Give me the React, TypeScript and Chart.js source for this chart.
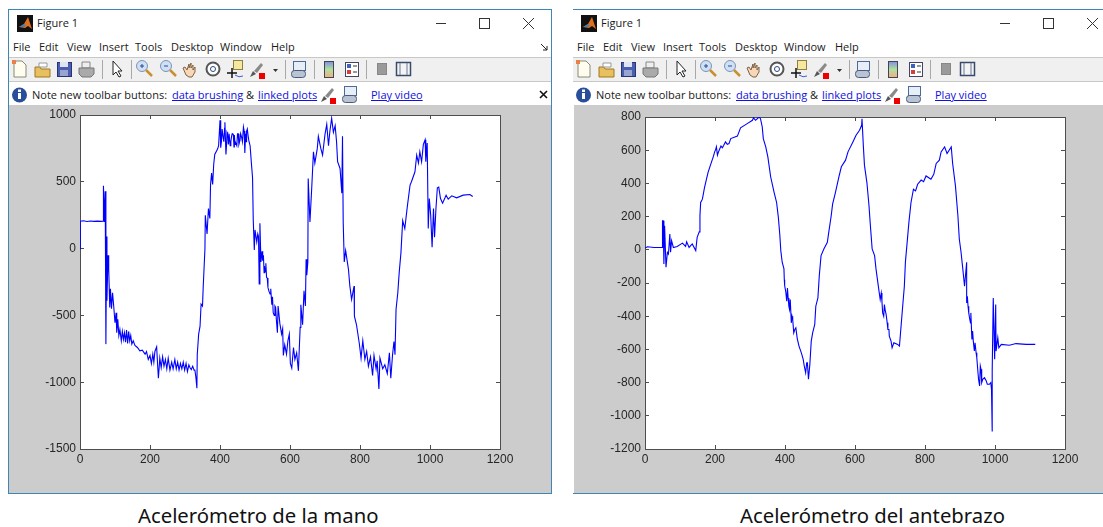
import React, { useEffect, useRef } from "react";
import { Chart, registerables } from "chart.js";

Chart.register(...registerables);

const tickStepX = 200;
const handYTicks = { min: -1500, max: 1000, step: 500 };
const armYTicks = { min: -1200, max: 800, step: 200 };
const xRange = { min: 0, max: 1200 };

const menuItems = ["File", "Edit", "View", "Insert", "Tools", "Desktop", "Window", "Help"];
const menuX = [13, 39, 67, 99, 135, 171, 220, 271];
const captionHand = "Acelerómetro de la mano";
const captionArm = "Acelerómetro del antebrazo";

const handX = [0, 1, 10, 20, 30, 40, 50, 60, 66, 66, 68, 70, 72, 74, 76, 77, 80, 82, 85, 87, 90, 93, 96, 100, 103, 105, 108, 111, 114, 118, 121, 124, 127, 130, 133, 136, 139, 142, 145, 148, 152, 157, 164, 171, 178, 186, 190, 195, 200, 204, 208, 211, 214, 219, 222, 224, 228, 232, 236, 240, 244, 248, 252, 257, 262, 266, 271, 275, 279, 283, 287, 291, 295, 299, 303, 307, 311, 314, 318, 322, 326, 328, 331, 334, 335, 339, 343, 346, 350, 352, 357, 358, 363, 367, 371, 373, 376, 379, 382, 385, 393, 396, 400, 402, 406, 409, 414, 417, 422, 429, 433, 438, 443, 448, 452, 457, 462, 467, 471, 473, 478, 481, 486, 490, 493, 495, 498, 500, 505, 508, 510, 512, 514, 517, 520, 524, 527, 529, 531, 533, 537, 543, 548, 552, 557, 561, 564, 566, 571, 576, 579, 581, 585, 590, 594, 598, 601, 605, 610, 614, 619, 624, 629, 631, 636, 640, 644, 646, 648, 651, 652, 657, 662, 667, 671, 678, 681, 688, 693, 700, 705, 710, 714, 719, 724, 729, 733, 736, 743, 748, 750, 752, 755, 759, 767, 771, 776, 783, 784, 790, 798, 803, 808, 814, 819, 824, 830, 836, 840, 846, 849, 854, 857, 865, 871, 878, 884, 888, 893, 897, 900, 903, 908, 912, 917, 922, 928, 935, 943, 947, 957, 962, 967, 971, 976, 981, 986, 988, 992, 995, 998, 1002, 1006, 1010, 1013, 1017, 1021, 1025, 1030, 1036, 1046, 1052, 1062, 1076, 1095, 1114, 1122];
const handY = [0, 205, 208, 203, 207, 204, 206, 204, 205, 310, 470, 200, 430, -715, 90, -390, -50, -150, -440, -300, -450, -330, -420, -555, -480, -630, -530, -650, -605, -690, -620, -680, -630, -700, -610, -710, -620, -690, -650, -715, -690, -725, -740, -765, -760, -790, -770, -830, -800, -860, -790, -850, -770, -735, -880, -970, -820, -890, -810, -880, -830, -900, -820, -910, -850, -900, -830, -900, -850, -910, -860, -900, -850, -910, -860, -920, -870, -890, -905, -880, -910, -905, -960, -1045, -795, -640, -580, -415, -430, -290, 0, 250, 110, 300, 225, 480, 565, 480, 630, 705, 745, 770, 960, 755, 895, 830, 945, 705, 855, 770, 840, 855, 780, 770, 860, 810, 830, 910, 715, 860, 895, 830, 770, 630, 530, 215, -10, 140, 50, 110, 90, -265, 190, -100, -20, -50, -130, -175, -110, -215, -290, -340, -420, -480, -430, -530, -630, -430, -560, -640, -600, -800, -720, -790, -690, -640, -860, -895, -740, -830, -780, -915, -590, -420, -570, -315, -430, -80, -200, -100, 525, 200, 450, 725, 640, 750, 840, 750, 700, 855, 930, 770, 880, 975, 870, 920, 800, 650, 600, 415, 840, 200, -100, -15, -155, -280, -380, -280, -505, -570, -710, -820, -690, -830, -770, -880, -810, -950, -800, -900, -840, -1050, -820, -900, -870, -935, -780, -970, -795, -695, -795, -455, -330, -180, -30, 210, 150, 310, 475, 500, 575, 700, 640, 725, 650, 780, 815, 650, 790, 150, 375, 250, 10, 300, 85, 300, 455, 460, 375, 340, 400, 370, 395, 380, 400, 405, 390];
const handExtraX = [404, 411, 413, 419, 420, 424, 426, 431, 435, 440, 441, 445, 450, 454, 459, 464, 469, 475, 476, 483, 522, 526, 535, 540, 545, 550, 555, 559];
const handExtraY = [800, 800, 900, 790, 870, 780, 860, 800, 860, 760, 850, 790, 860, 780, 860, 800, 880, 800, 880, 800, -90, -180, -220, -320, -300, -360, -500, -440];

const armX = [0, 7, 26, 49, 50, 52, 54, 56, 60, 64, 67, 71, 73, 76, 81, 92, 107, 116, 119, 126, 135, 145, 149, 155, 157, 159, 164, 170, 180, 187, 195, 202, 207, 214, 225, 240, 245, 264, 273, 292, 307, 310, 316, 326, 330, 335, 338, 345, 351, 359, 369, 376, 381, 385, 388, 392, 397, 399, 405, 409, 413, 418, 425, 435, 445, 452, 459, 464, 467, 471, 475, 479, 485, 488, 494, 498, 503, 511, 521, 525, 532, 536, 544, 554, 561, 573, 580, 594, 603, 613, 619, 620, 624, 627, 634, 640, 644, 649, 656, 660, 668, 675, 679, 684, 689, 697, 703, 706, 711, 722, 727, 732, 737, 741, 744, 749, 754, 760, 767, 773, 779, 789, 796, 803, 817, 825, 832, 841, 846, 856, 863, 875, 879, 887, 894, 898, 903, 908, 913, 919, 919, 925, 930, 934, 936, 941, 946, 951, 956, 960, 965, 975, 984, 990, 992, 992, 995, 997, 999, 1002, 1003, 1008, 1011, 1018, 1041, 1060, 1089, 1115];
const armY = [10, 18, 14, 14, 175, 175, -85, 145, -105, -15, -25, 95, -15, 55, 14, 20, 40, 20, 48, 14, 35, -5, 75, 108, 205, 285, 305, 375, 465, 510, 560, 605, 570, 610, 630, 640, 670, 685, 735, 760, 780, 795, 780, 800, 790, 740, 670, 620, 560, 440, 345, 285, 195, 95, -5, -75, -115, -215, -310, -290, -360, -440, -500, -535, -610, -660, -740, -680, -780, -690, -550, -500, -450, -340, -290, -155, -35, 5, 45, 105, 205, 275, 345, 440, 500, 540, 590, 650, 690, 720, 750, 790, 620, 510, 405, 265, 145, 5, -35, -115, -240, -260, -380, -330, -390, -480, -550, -590, -560, -570, -580, -450, -320, -220, -75, 45, 165, 285, 365, 355, 395, 420, 410, 445, 425, 455, 520, 540, 590, 620, 580, 620, 520, 385, 205, 65, -15, -115, -220, -75, -320, -380, -440, -540, -490, -610, -620, -730, -820, -720, -780, -790, -810, -840, -1095, -730, -290, -290, -660, -330, -610, -530, -590, -570, -575, -565, -570, -570];
const armExtraX = [199, 204, 210, 217, 221, 230, 235, 398, 402, 407, 411, 415, 420, 422, 428, 431, 440, 448, 455, 462, 672, 677, 682, 686, 692, 694, 698, 921, 923, 928, 931, 938, 943, 948, 953, 958, 962, 970, 978, 988];
const armExtraY = [590, 620, 590, 625, 615, 650, 635, -180, -250, -230, -340, -300, -400, -420, -480, -470, -580, -630, -700, -680, -300, -310, -400, -360, -440, -480, -520, -280, -340, -420, -380, -550, -560, -650, -780, -700, -800, -770, -810, -800];

function mergePoints(xs: number[], ys: number[], extraXs: number[], extraYs: number[]) {
  const base = xs.map((x, i) => ({ x, y: ys[i] }));
  const extra = extraXs.map((x, i) => ({ x, y: extraYs[i] }));
  return [...base, ...extra].sort((a, b) => a.x - b.x);
}

function scaleOptions(position: string, min: number, max: number, step: number, size: number, labels: boolean) {
  const vertical = position === "left" || position === "right";
  return {
    type: "linear",
    position,
    min,
    max,
    afterFit(axis: any) {
      if (vertical) axis.width = size;
      else axis.height = size;
      axis.paddingTop = 0;
      axis.paddingBottom = 0;
      axis.paddingLeft = 0;
      axis.paddingRight = 0;
    },
    border: { display: true, color: "#4d4d4d", width: 1 },
    grid: { drawOnChartArea: false, drawTicks: true, tickLength: -4, color: "#4d4d4d", lineWidth: 1 },
    ticks: {
      display: labels,
      stepSize: step,
      autoSkip: false,
      maxRotation: 0,
      padding: vertical ? 8 : 7,
      color: "#262626",
      font: { family: "'Liberation Sans', Arial, sans-serif", size: 12 },
      callback: (value: number) => String(value),
    },
  };
}

function Plot({ points, yTicks, left, width, topGap }: any) {
  const ref = useRef<HTMLCanvasElement>(null);
  useEffect(() => {
    const chart = new Chart(ref.current as HTMLCanvasElement, {
      type: "line",
      data: {
        datasets: [
          {
            data: points,
            borderColor: "#0000ff",
            borderWidth: 1.1,
            pointRadius: 0,
            tension: 0,
            xAxisID: "x",
            yAxisID: "y",
          },
        ],
      },
      options: {
        responsive: false,
        animation: false,
        plugins: { legend: { display: false }, tooltip: { enabled: false } },
        layout: { padding: 0 },
        scales: {
          x: scaleOptions("bottom", xRange.min, xRange.max, tickStepX, 44, true),
          y: scaleOptions("left", yTicks.min, yTicks.max, yTicks.step, 71, true),
          xTop: scaleOptions("top", xRange.min, xRange.max, tickStepX, topGap, false),
          yRight: scaleOptions("right", yTicks.min, yTicks.max, yTicks.step, width - 71 - 420, false),
        },
      } as any,
    });
    return () => chart.destroy();
  }, []);
  return (
    <canvas
      ref={ref}
      width={width}
      height={388}
      style={{ position: "absolute", left, top: 105, width, height: 388, display: "block" }}
    />
  );
}

const uiFont = "'Open Sans', 'Noto Sans', sans-serif";

function Label({ x, y, children, color = "#1a1a1a", size = 11, underline = false }: any) {
  return (
    <span
      style={{
        position: "absolute",
        left: x,
        top: y,
        font: `${size}px/14px ${uiFont}`,
        color,
        whiteSpace: "nowrap",
        textDecoration: underline ? "underline" : "none",
      }}
    >
      {children}
    </span>
  );
}

function BrushIcon({ x, y }: any) {
  return (
    <g transform={`translate(${x} ${y})`}>
      <path d="M0 16l3-6 3 3z" fill="#555" />
      <path d="M4 10l7-8 2 2-6 8z" fill="#8a8a8a" />
      <rect x="9" y="12" width="6" height="6" fill="#ee0000" />
    </g>
  );
}

function LinkIcon({ x, y }: any) {
  return (
    <g transform={`translate(${x} ${y})`}>
      <rect x="2.5" y="0.5" width="12" height="9" fill="#e8eef8" stroke="#4a6a9a" />
      <rect x="0.5" y="9.5" width="14" height="7" rx="3" fill="#b8c4d4" stroke="#4a5a7a" />
    </g>
  );
}

function Icons() {
  const sep = [102, 131, 285, 314, 366];
  return (
    <svg width="420" height="56" style={{ position: "absolute", left: 0, top: 57 }}>
      {sep.map((x) => (
        <line key={x} x1={x + 0.5} y1="3" x2={x + 0.5} y2="22" stroke="#a8a8a8" />
      ))}
      {/* new */}
      <path d="M14 4h8l4 4v12H14z" fill="#fffdf0" stroke="#8a8a70" />
      <rect x="12" y="3" width="4" height="4" fill="#e8804a" />
      {/* open */}
      <g transform="translate(2 0)">
        <path d="M33 10h5l1 2h9v8H33z" fill="#e8c060" stroke="#a07820" />
        <path d="M37 6h8v4h-8z" fill="#fff" stroke="#999" />
      </g>
      {/* save */}
      <g transform="translate(3 0)">
        <rect x="54.5" y="5.5" width="14" height="14" fill="#4a5fb0" stroke="#2a3570" />
        <rect x="57" y="5" width="8" height="5" fill="#dfe4f5" />
        <rect x="57" y="13" width="8" height="6" fill="#9aa4d0" />
      </g>
      {/* print */}
      <g transform="translate(6 0)">
        <path d="M76 5h8v6h-8z" fill="#eee" stroke="#888" />
        <path d="M73 11h15v6l-3 3H76l-3-3z" fill="#aaa" stroke="#777" />
      </g>
      {/* pointer */}
      <path d="M113 4v14l3-3 3 5 2-1-3-5h4z" fill="#fff" stroke="#222" />
      {/* zoom in / out */}
      <g transform="translate(7 0)">
        <circle cx="135" cy="9" r="5.5" fill="#cfe0f5" stroke="#7a94b8" />
        <path d="M133 9h4M135 7v4" stroke="#2a4a90" />
        <path d="M139 13l6 6" stroke="#c89030" strokeWidth="2.5" />
      </g>
      <g transform="translate(11 0)">
        <circle cx="155" cy="9" r="5.5" fill="#cfe0f5" stroke="#7a94b8" />
        <path d="M153 9h4" stroke="#2a4a90" />
        <path d="M159 13l6 6" stroke="#c89030" strokeWidth="2.5" />
      </g>
      {/* hand */}
      <g transform="translate(10 1)">
        <path d="M173 10l3 7q3 3 6 2l3-5v-5l-2 3V7l-2 3V5l-2 5V6l-2 6-2-3z" fill="#f6d8b8" stroke="#806040" />
      </g>
      {/* rotate */}
      <g transform="translate(14 0)">
        <circle cx="199" cy="12" r="6.5" fill="#fff" stroke="#555" strokeWidth="2" />
        <circle cx="199" cy="12" r="2.5" fill="none" stroke="#2a4a80" />
      </g>
      {/* cursor */}
      <g transform="translate(15 0)">
        <rect x="218.5" y="3.5" width="9" height="9" fill="#f5e9a0" stroke="#908040" />
        <path d="M212 16h10M217 11v10" stroke="#111" strokeWidth="1.5" />
        <path d="M220 18q4 3 8 1" stroke="#4060d0" fill="none" />
      </g>
      {/* brush */}
      <BrushIcon x={250} y={4} />
      <path d="M273 12h5l-2.5 3z" fill="#333" />
      {/* link */}
      <LinkIcon x={291} y={4} />
      {/* colorbar */}
      <defs>
        <linearGradient id="cbar" x1="0" x2="0" y1="0" y2="1">
          <stop offset="0" stopColor="#8090e0" />
          <stop offset="0.5" stopColor="#b0e0a0" />
          <stop offset="1" stopColor="#f0b080" />
        </linearGradient>
      </defs>
      <rect x="324.5" y="4.5" width="9" height="16" fill="url(#cbar)" stroke="#445" />
      {/* legend */}
      <g transform="translate(23 0)">
        <rect x="322.5" y="5.5" width="13" height="14" fill="#fff" stroke="#446" />
        <rect x="324" y="7" width="4" height="4" fill="#4060c0" />
        <rect x="324" y="13" width="4" height="4" fill="#d04040" />
        <path d="M330 9h4M330 15h4" stroke="#333" />
      </g>
      {/* hide / dock */}
      <rect x="377.5" y="6.5" width="9" height="11" fill="#9a9a9a" stroke="#888" />
      <g transform="translate(27 0)">
        <rect x="369.5" y="5.5" width="14" height="13" fill="#f4f4f4" stroke="#3a4a6a" strokeWidth="1.5" />
        <path d="M373 6v12M380 6v12" stroke="#6a7a9a" />
      </g>
      {/* info bar */}
      <circle cx="19.5" cy="38" r="7.5" fill="#2a4f9a" />
      <rect x="18" y="36" width="3" height="6" fill="#fff" />
      <rect x="18" y="32.5" width="3" height="2.5" fill="#fff" />
      <BrushIcon x={321} y={29} />
      <LinkIcon x={342} y={29} />
    </svg>
  );
}

function Frame({ left, width, closed }: any) {
  return (
    <div
      style={{
        position: "absolute",
        left,
        top: 9,
        width,
        height: 485,
        boxSizing: "border-box",
        borderTop: "1px solid #3f86b5",
        borderBottom: "1px solid #3f86b5",
        borderLeft: closed ? "1px solid #3f86b5" : "none",
        borderRight: closed ? "1px solid #3f86b5" : "none",
        background: "#fff",
      }}
    />
  );
}

function Chrome({ offset, barWidth }: any) {
  const link = "#1010e0";
  return (
    <div style={{ position: "absolute", left: offset, top: 0, width: 0, height: 0 }}>
      <div style={{ position: "absolute", left: 9, top: 57, width: barWidth, height: 25, boxSizing: "border-box", background: "#f0f0f0", borderTop: "1px solid #c8c8c8", borderBottom: "1px solid #c8c8c8" }} />
      <svg width="40" height="40" style={{ position: "absolute", left: 16, top: 14 }}>
        <rect x="1" y="1" width="16" height="17" fill="#111" />
        <path d="M3 13l5-3 4-7 4 12-4-3-3 2z" fill="#e07020" />
        <path d="M3 13l5-3 2 2-3 1z" fill="#3a80c0" />
      </svg>
      <Label x={37} y={16} size={11}>Figure 1</Label>
      <svg width="130" height="20" style={{ position: "absolute", left: 435, top: 14 }}>
        <line x1="1" y1="9.5" x2="11" y2="9.5" stroke="#333" />
        <rect x="44.5" y="4.5" width="10" height="10" fill="none" stroke="#333" />
        <path d="M88 4l11 11M99 4L88 15" stroke="#333" />
      </svg>
      {menuItems.map((m, i) => (
        <Label key={m} x={menuX[i]} y={40} size={11}>{m}</Label>
      ))}
      <Icons />
      <Label x={32} y={88} size={11}>Note new toolbar buttons:</Label>
      <Label x={172} y={88} size={11} color={link} underline>data brushing</Label>
      <Label x={246} y={88} size={11}>&amp;</Label>
      <Label x={258} y={88} size={11} color={link} underline>linked plots</Label>
      <Label x={371} y={88} size={11} color={link} underline>Play video</Label>
    </div>
  );
}

export default function App() {
  useEffect(() => {
    document.body.style.margin = "0";
    document.body.style.background = "#fff";
  }, []);
  return (
    <div style={{ position: "relative", width: 1103, height: 527, overflow: "hidden", background: "#fff", filter: "blur(0.35px)" }}>
      <Frame left={8} width={544} closed />
      <Frame left={573} width={530} />
      <Chrome offset={0} barWidth={542} />
      <Chrome offset={564} barWidth={530} />
      <svg width="12" height="12" style={{ position: "absolute", left: 539, top: 42 }}>
        <path d="M2 2l6 6M8 4v4H4" stroke="#222" fill="none" />
      </svg>
      <svg width="12" height="12" style={{ position: "absolute", left: 538, top: 89 }}>
        <path d="M2 2l7 7M9 2L2 9" stroke="#111" strokeWidth="1.6" />
      </svg>
      <div style={{ position: "absolute", left: 9, top: 105, width: 542, height: 388, background: "#cccccc" }} />
      <div style={{ position: "absolute", left: 574, top: 105, width: 529, height: 388, background: "#cccccc" }} />
      <div style={{ position: "absolute", left: 80, top: 115, width: 420, height: 334, background: "#fff" }} />
      <div style={{ position: "absolute", left: 645, top: 117, width: 420, height: 332, background: "#fff" }} />
      <Plot points={mergePoints(handX, handY, handExtraX, handExtraY)} yTicks={handYTicks} left={9} width={542} topGap={10} />
      <Plot points={mergePoints(armX, armY, armExtraX, armExtraY)} yTicks={armYTicks} left={574} width={529} topGap={12} />
      <div style={{ position: "absolute", left: 138, top: 502, font: `20.3px/26px 'Noto Sans', sans-serif`, color: "#111", whiteSpace: "nowrap" }}>{captionHand}</div>
      <div style={{ position: "absolute", left: 740, top: 502, font: `20.3px/26px 'Noto Sans', sans-serif`, color: "#111", whiteSpace: "nowrap" }}>{captionArm}</div>
    </div>
  );
}
